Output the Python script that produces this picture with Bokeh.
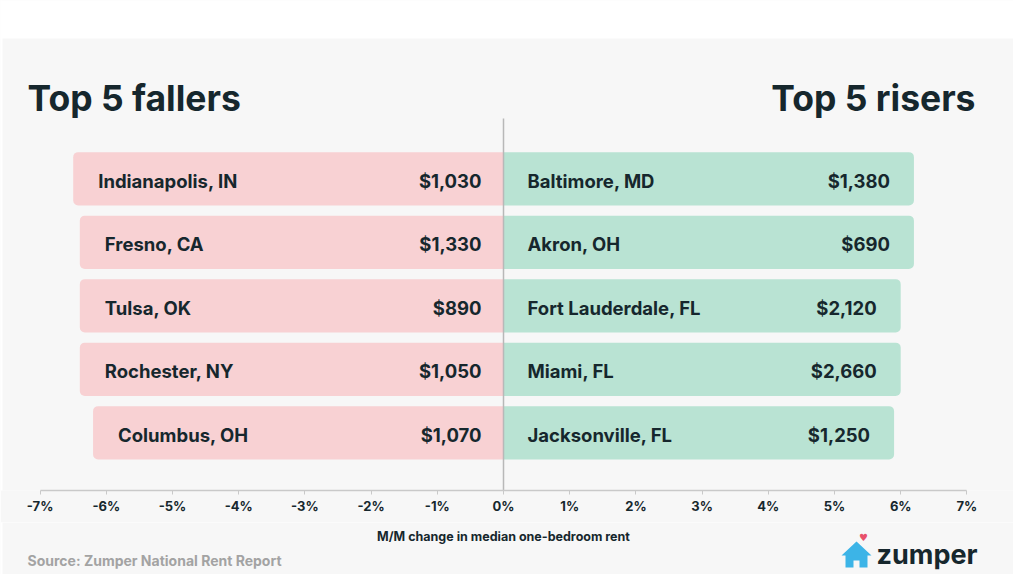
from bokeh.plotting import figure
from bokeh.layouts import column
from bokeh.models import Range1d, FixedTicker, Label, BoxAnnotation, PolyAnnotation, ColumnDataSource
from bokeh.embed import file_html
from bokeh.resources import INLINE
from bokeh.core.properties import value

# ---------------- data ----------------
fall_cities = ["Indianapolis, IN", "Fresno, CA", "Tulsa, OK", "Rochester, NY", "Columbus, OH"]
fall_change = [-6.5, -6.4, -6.4, -6.4, -6.2]
fall_rent = ["$1,030", "$1,330", "$890", "$1,050", "$1,070"]

rise_cities = ["Baltimore, MD", "Akron, OH", "Fort Lauderdale, FL", "Miami, FL", "Jacksonville, FL"]
rise_change = [6.2, 6.2, 6.0, 6.0, 5.9]
rise_rent = ["$1,380", "$690", "$2,120", "$2,660", "$1,250"]

tick_values = [-7, -6, -5, -4, -3, -2, -1, 0, 1, 2, 3, 4, 5, 6, 7]
tick_labels = ["-7%", "-6%", "-5%", "-4%", "-3%", "-2%", "-1%", "0%",
               "1%", "2%", "3%", "4%", "5%", "6%", "7%"]

rows = list(range(len(fall_cities)))

# ---------------- styling ----------------
FONT = "Inter"
DARK = "#16272d"
PINK = "#f8d1d3"
GREEN = "#b9e3d3"
CARD = "#f7f7f7"

# page-pixel helpers for decorations
X0, XS = 503.0, 66.2
Y0, YS = 178.3, 63.5
def px2x(px):
    return (px - X0) / XS
def py2y(py):
    return (py - Y0) / YS

W = 1013
MAIN_H = 522
FOOT_H = 52
BOTTOM = 490

# ---------------- main chart ----------------
p = figure(width=W, height=MAIN_H, output_backend="svg", toolbar_location=None,
           x_range=Range1d(px2x(0), px2x(W)),
           y_range=Range1d(py2y(BOTTOM), py2y(0)),
           y_axis_location=None, x_axis_location="below",
           min_border_left=0, min_border_right=0, min_border_top=0,
           min_border_bottom=MAIN_H - BOTTOM)
p.background_fill_color = CARD
p.border_fill_color = CARD
p.outline_line_color = None
p.xgrid.visible = False
p.ygrid.visible = False

fall_src = ColumnDataSource(dict(y=rows, left=fall_change, right=[0] * 5,
                                 city=fall_cities, rent=fall_rent))
rise_src = ColumnDataSource(dict(y=rows, left=[0] * 5, right=rise_change,
                                 city=rise_cities, rent=rise_rent))

p.hbar(y="y", left="left", right="right", height=0.84, source=fall_src,
       fill_color=PINK, line_color=None, border_radius=(5, 0, 0, 5))
p.hbar(y="y", left="left", right="right", height=0.84, source=rise_src,
       fill_color=GREEN, line_color=None, border_radius=(0, 5, 5, 0))

# zero line
p.segment(x0=[0], y0=[py2y(118)], x1=[0], y1=[py2y(490)],
          line_color="#b8b8b8", line_width=1.5)

common = dict(text_font=value(FONT), text_font_size="18.5px", text_font_style="bold",
              text_color=DARK, text_baseline="middle", y_offset=2)
p.text(x="left", y="y", text="city", source=fall_src, x_offset=25, text_align="left", **common)
p.text(x="right", y="y", text="rent", source=fall_src, x_offset=-22, text_align="right", **common)
p.text(x="left", y="y", text="city", source=rise_src, x_offset=24, text_align="left", **common)
p.text(x="right", y="y", text="rent", source=rise_src, x_offset=-24, text_align="right", **common)

ax = p.xaxis[0]
ax.ticker = FixedTicker(ticks=tick_values)
ax.major_label_overrides = dict(zip(tick_values, tick_labels))
ax.bounds = (-7, 7)
ax.axis_line_color = "#c9c9c9"
ax.axis_line_width = 1.5
ax.major_tick_line_color = "#c9c9c9"
ax.major_tick_in = 0
ax.major_tick_out = 4
ax.minor_tick_line_color = None
ax.major_label_text_font = FONT
ax.major_label_text_font_size = "13px"
ax.major_label_text_font_style = "bold"
ax.major_label_text_color = DARK
ax.major_label_standoff = 3

# white margins outside the card
p.add_layout(BoxAnnotation(left=px2x(-10), right=px2x(1040), top=py2y(-10), bottom=py2y(38),
                           fill_color="white", fill_alpha=1, line_color=None))
p.add_layout(BoxAnnotation(left=px2x(-10), right=px2x(2), top=py2y(-10), bottom=py2y(600),
                           fill_color="white", fill_alpha=1, line_color=None))

# titles
p.add_layout(Label(x=px2x(27), y=py2y(98), text="Top 5 fallers", text_font=FONT,
                   text_font_size="35.5px", text_font_style="bold", text_color=DARK,
                   text_align="left", text_baseline="middle"))
p.add_layout(Label(x=px2x(975), y=py2y(98), text="Top 5 risers", text_font=FONT,
                   text_font_size="35.5px", text_font_style="bold", text_color=DARK,
                   text_align="right", text_baseline="middle"))

# ---------------- footer (axis title, source, logo) ----------------
f = figure(width=W, height=FOOT_H, output_backend="svg", toolbar_location=None,
           x_range=p.x_range, y_range=Range1d(MAIN_H + FOOT_H, MAIN_H),
           x_axis_location=None, y_axis_location=None,
           min_border_left=0, min_border_right=0, min_border_top=0, min_border_bottom=0)
f.background_fill_color = CARD
f.border_fill_color = CARD
f.outline_line_color = None
f.xgrid.visible = False
f.ygrid.visible = False

f.add_layout(BoxAnnotation(left=px2x(-10), right=px2x(2), top=500, bottom=600,
                           fill_color="white", fill_alpha=1, line_color=None))

f.add_layout(Label(x=0, y=536, text="M/M change in median one-bedroom rent",
                   text_font=FONT, text_font_size="12.5px", text_font_style="bold",
                   text_color=DARK, text_align="center", text_baseline="middle"))
f.add_layout(Label(x=px2x(27), y=560, text="Source: Zumper National Rent Report",
                   text_font=FONT, text_font_size="14px", text_font_style="bold",
                   text_color="#a3a3a3", text_align="left", text_baseline="middle"))

house_px = [(856, 541), (871, 555), (867, 555), (867, 567), (859, 567), (859, 560),
            (853, 560), (853, 567), (845, 567), (845, 555), (841, 555)]
f.add_layout(PolyAnnotation(xs=[px2x(a) for a, b in house_px], ys=[b for a, b in house_px],
                            fill_color="#3cb4e7", fill_alpha=1, line_color=None))
f.add_layout(Label(x=px2x(863), y=537, text="\u2665", text_font="DejaVu Sans",
                   text_font_size="10px", text_color="#e8516b", text_align="center",
                   text_baseline="middle"))
f.add_layout(Label(x=px2x(876), y=554, text="zumper", text_font=FONT,
                   text_font_size="27px", text_font_style="bold", text_color=DARK,
                   text_align="left", text_baseline="middle"))

layout = column(p, f, spacing=0)
open("out.html", "w").write(file_html(layout, INLINE))
